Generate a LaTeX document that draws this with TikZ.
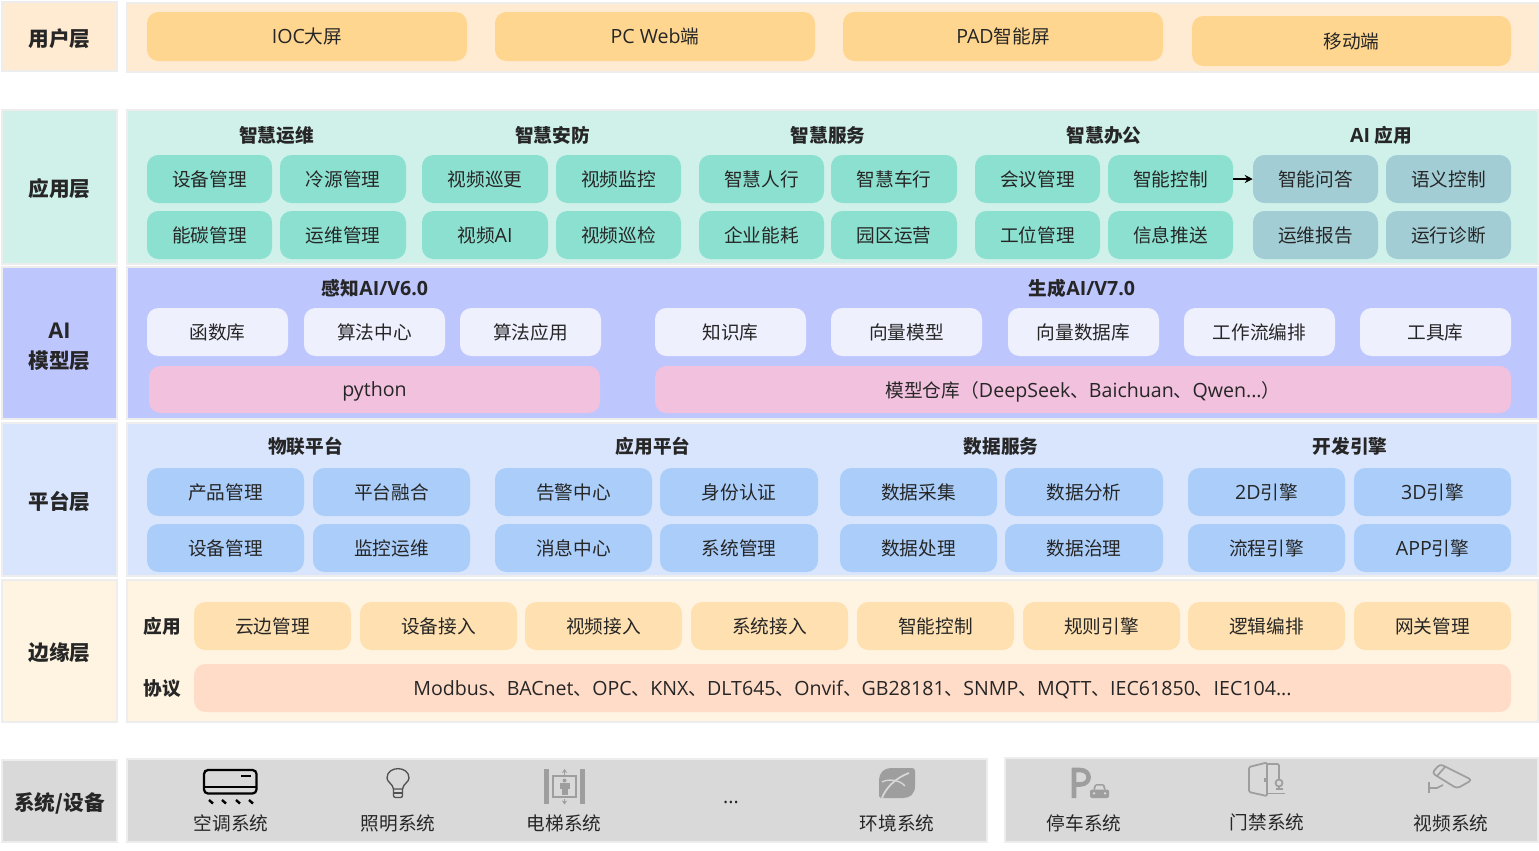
\documentclass[tikz,border=0pt]{standalone}
\usepackage{fontspec}
\setmainfont{Noto Sans CJK SC}
\newfontfamily\lat[Scale=1.05]{Open Sans}
\usetikzlibrary{arrows.meta}
\definecolor{uPanel}{HTML}{FFEBD2}
\definecolor{uPill}{HTML}{FFD68F}
\definecolor{aPanel}{HTML}{CFF1EA}
\definecolor{aPill}{HTML}{8CE0D0}
\definecolor{aiApp}{HTML}{A2CDD5}
\definecolor{mPanel}{HTML}{BEC6FE}
\definecolor{mPill}{HTML}{EEF0FE}
\definecolor{mPink}{HTML}{F1C1DE}
\definecolor{pPanel}{HTML}{D9E5FC}
\definecolor{pPill}{HTML}{AACDF9}
\definecolor{ePanel}{HTML}{FFF3E2}
\definecolor{ePill}{HTML}{FFE0B0}
\definecolor{eProto}{HTML}{FFDCC8}
\definecolor{sysGray}{HTML}{D9D9D9}
\definecolor{edgeGray}{HTML}{EDEDED}
\definecolor{ink}{HTML}{262626}
\definecolor{ico}{HTML}{9E9E9E}
\tikzset{
  panelbox/.style={draw=edgeGray,line width=0.8pt,inner sep=0pt,text=ink},
  pillbox/.style={rounded corners=8.5pt,inner sep=0pt,text=ink,font=\fontsize{14}{16}\selectfont},
  laybl/.style={font=\bfseries\fontsize{15.5}{22.5}\selectfont,align=center},
  grouptitle/.style={inner sep=0pt,text=ink,font=\bfseries\fontsize{14}{16}\selectfont},
  plain/.style={inner sep=0pt,text=ink,font=\fontsize{14}{16}\selectfont},
  iconline/.style={draw=ico,line width=1.3pt},
}
% name, style, x1,y1,x2,y2, text
\newcommand\bx[7]{\node[#2,minimum width={(#5-#3)*0.75pt},minimum height={(#6-#4)*0.75pt}] (#1) at ({(#3+#5)/2},{(#4+#6)/2}) {#7};}
\newcommand\dn[1]{\raisebox{-1.5pt}[\height][\depth]{#1}}
\begin{document}
\begin{tikzpicture}[x=0.75pt,y=-0.75pt]
\useasboundingbox (0,0) rectangle (1539,850);
% layer labels and panels
\bx{lUser}{panelbox,fill=uPanel,laybl}{2}{2}{117}{71}{\dn{用户层}}
\bx{pUser}{panelbox,fill=uPanel}{127}{3}{1538}{72}{}
\bx{lApp}{panelbox,fill=aPanel,laybl}{2}{110}{117}{264}{\dn{应用层}}
\bx{pApp}{panelbox,fill=aPanel}{127}{110}{1538}{264}{}
\bx{lAI}{panelbox,fill=mPanel,laybl}{2}{267}{117}{419}{\raisebox{-3pt}[\height][\depth]{\begin{tabular}{@{}c@{}}{\lat AI}\\模型层\end{tabular}}}
\bx{pAI}{panelbox,fill=mPanel}{127}{267}{1538}{419}{}
\bx{lPlat}{panelbox,fill=pPanel,laybl}{2}{423}{117}{576}{\dn{平台层}}
\bx{pPlat}{panelbox,fill=pPanel}{127}{423}{1538}{576}{}
\bx{lEdge}{panelbox,fill=ePanel,laybl}{2}{580}{117}{722}{\dn{边缘层}}
\bx{pEdge}{panelbox,fill=ePanel}{127}{580}{1538}{722}{}
\bx{lSys}{panelbox,fill=sysGray,laybl}{2}{760}{117}{842}{\dn{系统/设备}}
\bx{pSysA}{panelbox,fill=sysGray}{127}{759}{987}{842}{}
\bx{pSysB}{panelbox,fill=sysGray}{1005}{758}{1538}{842}{}
% user layer
\bx{u1}{pillbox,fill=uPill}{147}{12}{467}{61}{{\lat IOC}大屏}
\bx{u2}{pillbox,fill=uPill}{495}{12}{815}{61}{{\lat PC Web}端}
\bx{u3}{pillbox,fill=uPill}{843}{12}{1163}{61}{{\lat PAD}智能屏}
\bx{u4}{pillbox,fill=uPill}{1192}{16}{1511}{66}{移动端}
% application layer
\node[grouptitle] (t1) at (276.5,135) {智慧运维};
\node[grouptitle] (t2) at (552.5,135) {智慧安防};
\node[grouptitle] (t3) at (828,135) {智慧服务};
\node[grouptitle] (t4) at (1104,135) {智慧办公};
\node[grouptitle] (t5) at (1381,135) {{\lat AI} 应用};
\bx{a11}{pillbox,fill=aPill}{147}{155}{272}{203}{设备管理}
\bx{a12}{pillbox,fill=aPill}{280}{155}{406}{203}{冷源管理}
\bx{a13}{pillbox,fill=aPill}{422}{155}{548}{203}{视频巡更}
\bx{a14}{pillbox,fill=aPill}{556}{155}{681}{203}{视频监控}
\bx{a15}{pillbox,fill=aPill}{699}{155}{824}{203}{智慧人行}
\bx{a16}{pillbox,fill=aPill}{831}{155}{957}{203}{智慧车行}
\bx{a17}{pillbox,fill=aPill}{975}{155}{1100}{203}{会议管理}
\bx{a18}{pillbox,fill=aPill}{1108}{155}{1233}{203}{智能控制}
\bx{a19}{pillbox,fill=aiApp}{1253}{155}{1378}{203}{智能问答}
\bx{a1a}{pillbox,fill=aiApp}{1386}{155}{1511}{203}{语义控制}
\bx{a21}{pillbox,fill=aPill}{147}{211}{272}{259}{能碳管理}
\bx{a22}{pillbox,fill=aPill}{280}{211}{406}{259}{运维管理}
\bx{a23}{pillbox,fill=aPill}{422}{211}{548}{259}{视频{\lat AI}}
\bx{a24}{pillbox,fill=aPill}{556}{211}{681}{259}{视频巡检}
\bx{a25}{pillbox,fill=aPill}{699}{211}{824}{259}{企业能耗}
\bx{a26}{pillbox,fill=aPill}{831}{211}{957}{259}{园区运营}
\bx{a27}{pillbox,fill=aPill}{975}{211}{1100}{259}{工位管理}
\bx{a28}{pillbox,fill=aPill}{1108}{211}{1233}{259}{信息推送}
\bx{a29}{pillbox,fill=aiApp}{1253}{211}{1378}{259}{运维报告}
\bx{a2a}{pillbox,fill=aiApp}{1386}{211}{1511}{259}{运行诊断}
\draw[-{Stealth[length=6pt,width=6pt]},line width=0.9pt,black] (a18) -- (a19);
% AI layer
\node[grouptitle] (m1) at (375,288) {感知{\lat AI/V6.0}};
\node[grouptitle] (m2) at (1082,288) {生成{\lat AI/V7.0}};
\bx{m11}{pillbox,fill=mPill}{147}{308}{288}{356}{函数库}
\bx{m12}{pillbox,fill=mPill}{304}{308}{445}{356}{算法中心}
\bx{m13}{pillbox,fill=mPill}{460}{308}{601}{356}{算法应用}
\bx{m21}{pillbox,fill=mPill}{655}{308}{806}{356}{知识库}
\bx{m22}{pillbox,fill=mPill}{831}{308}{982}{356}{向量模型}
\bx{m23}{pillbox,fill=mPill}{1008}{308}{1159}{356}{向量数据库}
\bx{m24}{pillbox,fill=mPill}{1184}{308}{1335}{356}{工作流编排}
\bx{m25}{pillbox,fill=mPill}{1360}{308}{1511}{356}{工具库}
\bx{m3}{pillbox,fill=mPink}{149}{366}{600}{413}{\dn{{\lat python}}}
\bx{m4}{pillbox,fill=mPink}{655}{366}{1511}{413}{\dn{模型仓库（{\lat DeepSeek}、{\lat Baichuan}、{\lat Qwen...}）}}
% platform layer
\node[grouptitle] (g1) at (305.5,446) {物联平台};
\node[grouptitle] (g2) at (653,446) {应用平台};
\node[grouptitle] (g3) at (1001,446) {数据服务};
\node[grouptitle] (g4) at (1350,446) {开发引擎};
\bx{p11}{pillbox,fill=pPill}{147}{468}{304}{516}{产品管理}
\bx{p12}{pillbox,fill=pPill}{313}{468}{470}{516}{平台融合}
\bx{p13}{pillbox,fill=pPill}{495}{468}{652}{516}{告警中心}
\bx{p14}{pillbox,fill=pPill}{660}{468}{818}{516}{身份认证}
\bx{p15}{pillbox,fill=pPill}{840}{468}{997}{516}{数据采集}
\bx{p16}{pillbox,fill=pPill}{1005}{468}{1163}{516}{数据分析}
\bx{p17}{pillbox,fill=pPill}{1188}{468}{1345}{516}{{\lat 2D}引擎}
\bx{p18}{pillbox,fill=pPill}{1354}{468}{1511}{516}{{\lat 3D}引擎}
\bx{p21}{pillbox,fill=pPill}{147}{524}{304}{572}{设备管理}
\bx{p22}{pillbox,fill=pPill}{313}{524}{470}{572}{监控运维}
\bx{p23}{pillbox,fill=pPill}{495}{524}{652}{572}{消息中心}
\bx{p24}{pillbox,fill=pPill}{660}{524}{818}{572}{系统管理}
\bx{p25}{pillbox,fill=pPill}{840}{524}{997}{572}{数据处理}
\bx{p26}{pillbox,fill=pPill}{1005}{524}{1163}{572}{数据治理}
\bx{p27}{pillbox,fill=pPill}{1188}{524}{1345}{572}{流程引擎}
\bx{p28}{pillbox,fill=pPill}{1354}{524}{1511}{572}{{\lat APP}引擎}
% edge layer
\node[grouptitle] (e0) at (162,626) {应用};
\node[grouptitle] (e9) at (162,688.5) {协议};
\bx{e1}{pillbox,fill=ePill}{194}{602}{351}{650}{云边管理}
\bx{e2}{pillbox,fill=ePill}{360}{602}{517}{650}{设备接入}
\bx{e3}{pillbox,fill=ePill}{525}{602}{682}{650}{视频接入}
\bx{e4}{pillbox,fill=ePill}{691}{602}{848}{650}{系统接入}
\bx{e5}{pillbox,fill=ePill}{857}{602}{1014}{650}{智能控制}
\bx{e6}{pillbox,fill=ePill}{1023}{602}{1180}{650}{规则引擎}
\bx{e7}{pillbox,fill=ePill}{1188}{602}{1345}{650}{逻辑编排}
\bx{e8}{pillbox,fill=ePill}{1354}{602}{1511}{650}{网关管理}
\bx{ep}{pillbox,fill=eProto}{194}{664}{1511}{712}{\dn{{\lat Modbus}、{\lat BACnet}、{\lat OPC}、{\lat KNX}、{\lat DLT645}、{\lat Onvif}、{\lat GB28181}、{\lat SNMP}、{\lat MQTT}、{\lat IEC61850}、{\lat IEC104...}}}
% system layer labels
\node[plain] (s1) at (231,823) {空调系统};
\node[plain] (s2) at (398,823) {照明系统};
\node[plain] (s3) at (564,823) {电梯系统};
\node[plain] (s4) at (731,802) {{\lat ...}};
\node[plain] (s5) at (897,823) {环境系统};
\node[plain] (s6) at (1084,823) {停车系统};
\node[plain] (s7) at (1267,822) {门禁系统};
\node[plain] (s8) at (1451,823) {视频系统};
% air conditioner icon
\draw[black,line width=1.7pt,rounded corners=3pt] (204,770) rectangle (256.5,793.5);
\draw[black,line width=1.3pt] (204,787) -- (256.5,787);
\draw[black,line width=1.7pt] (241,775.7) -- (250.5,775.7);
\foreach \xx in {211,224,238,251}
  \draw[black,line width=1.8pt] (\xx-2,800) -- (\xx+2,803.5);
% bulb icon
\draw[draw=ink!80,line width=1pt] (393.5,789) .. controls (393,784) and (387,782) .. (387,778)
  .. controls (387,765.5) and (409,765.5) .. (409,778)
  .. controls (409,782) and (403,784) .. (402.5,789) -- cycle;
\draw[draw=ink!80,line width=1pt,rounded corners=1.5pt] (393.5,789) -- (393.5,797.5) -- (402.5,797.5) -- (402.5,789);
\draw[draw=ink!80,line width=0.8pt] (393.5,793) -- (402.5,793);
% elevator icon
\fill[ico] (544,769) rectangle (549,804);
\fill[ico] (579.5,769) rectangle (584.5,804);
\draw[iconline] (553,776) rectangle (576,797);
\fill[ico] (564.5,780.5) circle (2);
\fill[ico] (559.5,783) rectangle (569.5,789);
\fill[ico] (561.5,789) rectangle (567.5,795);
\draw[draw=ico,line width=0.7pt,-{Stealth[length=3pt,width=4pt]}] (564.5,774.5) -- (564.5,769);
\draw[draw=ico,line width=0.7pt,-{Stealth[length=3pt,width=4pt]}] (564.5,799) -- (564.5,804.5);
% leaf icon
\fill[ico] (891,768) -- (912,768) .. controls (914,768) and (915,769) .. (915,771) -- (915,786) .. controls (915,794) and (910,798) .. (903,798) -- (881,798) -- (879,796) -- (879,780) .. controls (879,773) and (884,768) .. (891,768) -- cycle;
\draw[sysGray,line width=1.3pt] (882,798) .. controls (885,790) and (893,779) .. (909,773);
\draw[sysGray,line width=1pt] (882,782) .. controls (887,779) and (899,779) .. (905,786);
% parking icon
\draw[ico,line width=3.4pt] (1074,798) -- (1074,770) -- (1080,770) .. controls (1091.5,770) and (1091.5,784.5) .. (1080,784.5) -- (1074,784.5);
\fill[ico,rounded corners=1.5pt] (1090,798) rectangle (1109,789.5);
\fill[ico,rounded corners=1pt] (1093,790) -- (1095,784) -- (1104,784) -- (1106,790) -- cycle;
\fill[sysGray] (1095,789.5) -- (1096.3,785.7) -- (1102.7,785.7) -- (1104,789.5) -- cycle;
\fill[sysGray] (1094,793.3) circle (1.3);
\fill[sysGray] (1105,793.3) circle (1.3);
% door icon
\draw[iconline,rounded corners=1pt] (1267,762.5) -- (1249,767) -- (1249,792) -- (1267,796) -- cycle;
\draw[iconline,rounded corners=1pt] (1267,764) -- (1279,764) -- (1279,779);
\draw[iconline,line width=1.5pt] (1265,778) -- (1265,781.5);
\draw[iconline] (1279,783) circle (3.5);
\draw[iconline] (1279,786.5) -- (1279,789);
\draw[iconline] (1275.5,789) -- (1282.5,789);
\draw[iconline] (1267,793.5) -- (1285,793.5);
% camera icon
\draw[iconline,rounded corners=2.5pt] (1440,764) -- (1472,780) -- (1457,788.5) -- (1432,773) -- cycle;
\draw[iconline] (1445,767) -- (1437,776);
\draw[iconline] (1429,782) -- (1429,793);
\draw[iconline] (1429,788) -- (1437,788) -- (1443,785);
\end{tikzpicture}
\end{document}
